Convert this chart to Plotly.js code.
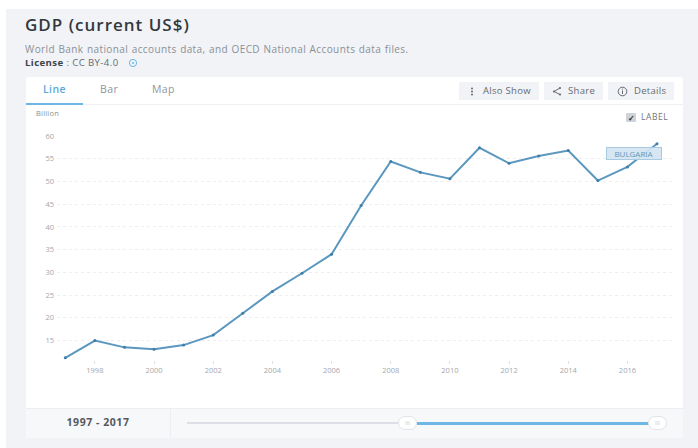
<!DOCTYPE html>
<html>
<head>
<meta charset="utf-8">
<script src="https://cdn.plot.ly/plotly-3.0.1.min.js"></script>
<style>
html,body{margin:0;padding:0;background:#fff;width:698px;height:448px;overflow:hidden;font-family:"Open Sans",sans-serif}
.abs{position:absolute;white-space:nowrap}
#page{left:6px;top:9px;width:692px;height:439px;background:#f1f3f7}
#card{left:26px;top:77px;width:657px;height:360px;background:#fff;border-radius:2px}
#tabline{left:26px;top:104px;width:657px;height:1px;background:#eef0f3}
#tabactive{left:26px;top:103px;width:57px;height:2px;background:#6db6e6}
.tab{top:82px;font-size:10.5px;color:#8f959c;letter-spacing:.4px}
.btn{top:82px;height:18px;line-height:18px;background:#f1f3f6;font-size:9.5px;color:#666c72;letter-spacing:.3px}
.btn svg{position:absolute;left:0;top:0}
.btn span{position:absolute;top:0}
#foot{left:26px;top:408px;width:657px;height:29px;background:#f7f8fa;border-top:1px solid #eceef1}
#footdiv{left:170px;top:408px;width:1px;height:30px;background:#eceef1}
#range{left:26px;top:408px;width:144px;height:30px;line-height:29px;text-align:center;font-size:10.5px;font-weight:700;color:#55595e;letter-spacing:.55px}
#track{left:187px;top:422px;width:212px;height:2px;background:#dcdfe5}
#trackon{left:417px;top:422px;width:232px;height:3px;background:#6db6e6}
.knob{top:416px;width:19px;height:14px;background:#fff;border:1px solid #e1e4e8;border-radius:8px;box-sizing:border-box;text-align:center;font-size:6px;line-height:12px;color:#c5c9ce}
#chart{left:0;top:0;width:698px;height:448px}
</style>
</head>
<body>
<div class="abs" id="page"></div>
<div class="abs" id="card"></div>
<div class="abs" id="tabline"></div>
<div class="abs" id="tabactive"></div>
<div class="abs" style="left:25px;top:13px;font-size:17px;font-weight:600;color:#33383d;letter-spacing:1px">GDP (current US$)</div>
<div class="abs" style="left:25px;top:42px;font-size:10px;color:#8b9096;letter-spacing:.4px;word-spacing:.5px">World Bank national accounts data, and OECD National Accounts data files.</div>
<div class="abs" style="left:25px;top:56px;font-size:9.6px;color:#666b70;letter-spacing:.4px"><b style="color:#3d4246">License</b> : CC BY-4.0</div>
<svg class="abs" style="left:128px;top:58px" width="10" height="10" viewBox="0 0 10 10"><circle cx="5" cy="5" r="3.6" fill="none" stroke="#6db6e6" stroke-width="1"/><circle cx="5" cy="5" r="1" fill="#6db6e6"/></svg>
<div class="abs tab" style="left:43px;color:#5aa9dc;font-weight:600">Line</div>
<div class="abs tab" style="left:100px">Bar</div>
<div class="abs tab" style="left:152px">Map</div>
<div class="abs btn" style="left:459px;width:80px"><svg width="20" height="18"><circle cx="13" cy="6.5" r="1" fill="#666c72"/><circle cx="13" cy="9.5" r="1" fill="#666c72"/><circle cx="13" cy="12.5" r="1" fill="#666c72"/></svg><span style="left:24px">Also Show</span></div>
<div class="abs btn" style="left:544px;width:59px"><svg width="20" height="18"><path d="M16 6 L10 9.5 L16 12.5" fill="none" stroke="#666c72" stroke-width="1"/><circle cx="10" cy="9.5" r="1.1" fill="#666c72"/><circle cx="16" cy="6" r="1.1" fill="#666c72"/><circle cx="16" cy="12.5" r="1.1" fill="#666c72"/></svg><span style="left:24px">Share</span></div>
<div class="abs btn" style="left:608px;width:66px"><svg width="22" height="18"><circle cx="14.5" cy="9.5" r="4.3" fill="none" stroke="#666c72" stroke-width="1"/><path d="M14.5 8.5 V12" stroke="#666c72" stroke-width="1"/><circle cx="14.5" cy="7" r=".6" fill="#666c72"/></svg><span style="left:26px">Details</span></div>
<div class="abs" style="left:36px;top:108px;font-size:7.5px;color:#8a8f95;letter-spacing:.2px">Billion</div>
<div class="abs" style="left:626px;top:113px;width:10px;height:9px;background:#cfd2d6;border-radius:1px;text-align:center;font-size:8px;line-height:9px;color:#222;font-weight:700">&#10003;</div>
<div class="abs" style="left:641px;top:111px;font-size:8.5px;color:#71767c;letter-spacing:.55px">LABEL</div>
<div class="abs" id="foot"></div>
<div class="abs" id="footdiv"></div>
<div class="abs" id="range">1997 - 2017</div>
<div class="abs" id="track"></div>
<div class="abs" id="trackon"></div>
<div class="abs knob" style="left:398px">III</div>
<div class="abs knob" style="left:648px">III</div>
<div class="abs" id="chart"></div>
<script>
// GDP of Bulgaria in billions of current US dollars
var years = [1997,1998,1999,2000,2001,2002,2003,2004,2005,2006,2007,2008,2009,2010,2011,2012,2013,2014,2015,2016,2017];
var gdpBillions = [11.2,15.0,13.5,13.1,14.0,16.2,21.0,25.8,29.8,34.0,44.7,54.4,52.0,50.6,57.4,54.0,55.6,56.8,50.2,53.2,58.3];
var yTicks = [15,20,25,30,35,40,45,50,55,60];
var xTicks = [1998,2000,2002,2004,2006,2008,2010,2012,2014,2016];
var seriesLabel = "BULGARIA";

var trace = {
  type: "scatter",
  mode: "lines+markers",
  x: years,
  y: gdpBillions,
  line: {color: "#5b97bf", width: 2},
  marker: {color: "#3f7ea8", size: 3},
  hoverinfo: "x+y"
};

var layout = {
  width: 698,
  height: 448,
  margin: {l: 57, r: 25, t: 135.5, b: 88},
  paper_bgcolor: "rgba(0,0,0,0)",
  plot_bgcolor: "rgba(0,0,0,0)",
  showlegend: false,
  font: {family: "Open Sans, sans-serif", size: 7.5, color: "#a3a7ac"},
  xaxis: {
    range: [1996.72, 2017.54],
    tickvals: xTicks,
    ticks: "outside",
    ticklen: 3,
    tickcolor: "#dfe1e4",
    showgrid: false,
    zeroline: false,
    showline: false
  },
  yaxis: {
    range: [10.72, 60],
    tickvals: yTicks,
    showgrid: true,
    gridcolor: "#eceef0",
    griddash: "dot",
    gridwidth: 1,
    zeroline: false,
    showline: false,
    ticks: "",
    ticklabelstandoff: 2
  },
  annotations: [{
    x: 2017,
    y: 56.16,
    xref: "x",
    yref: "y",
    text: seriesLabel,
    showarrow: false,
    xanchor: "center",
    yanchor: "middle",
    xshift: -23,
    width: 54,
    bgcolor: "rgba(211,229,242,0.92)",
    bordercolor: "#a9cbe2",
    borderwidth: 1,
    borderpad: 0,
    font: {family: "Open Sans, sans-serif", size: 8, color: "#6595b5"}
  }]
};

Plotly.newPlot("chart", [trace], layout, {displayModeBar: false, staticPlot: true});
</script>
</body>
</html>
